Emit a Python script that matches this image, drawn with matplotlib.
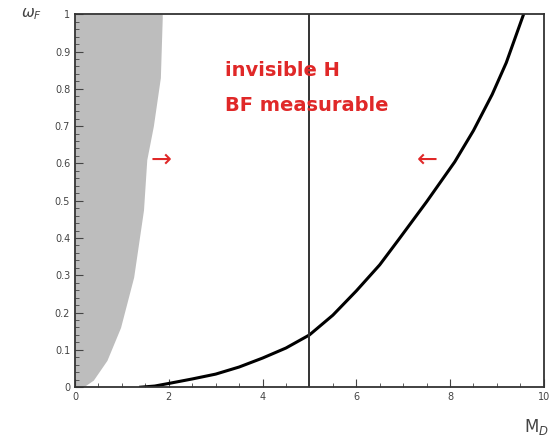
import numpy as np
import matplotlib.pyplot as plt

# curve of the measurable limit
curve_x = [1.4, 1.7, 2.0, 2.5, 3.0, 3.5, 4.0, 4.5, 5.0, 5.5, 6.0, 6.5, 6.9,
           7.5, 8.1, 8.5, 8.9, 9.2, 9.57]
curve_y = [0.0, 0.003, 0.01, 0.022, 0.035, 0.054, 0.078, 0.105, 0.14, 0.193, 0.258,
           0.328, 0.395, 0.497, 0.604, 0.688, 0.785, 0.87, 1.0]

# right edge of the shaded (excluded) region
shade_y = [0.0, 0.019, 0.072, 0.16, 0.295, 0.475, 0.61, 0.70, 0.83, 0.99, 1.0]
shade_x = [0.17, 0.39, 0.68, 0.97, 1.25, 1.46, 1.53, 1.67, 1.82, 1.86, 1.86]

cut_x = 5.0

plt.figure(figsize=(5.56, 4.44), dpi=100)
ax = plt.axes([0.135, 0.128, 0.843, 0.84])

ax.fill_betweenx(shade_y, 0, shade_x, color='#bdbdbd', lw=0)
ax.plot(curve_x, curve_y, color='black', lw=2.2)
ax.plot([cut_x, cut_x], [0, 1], color='#333333', lw=1.4)

ax.text(3.2, 0.85, 'invisible H', color='#e02828', fontsize=14,
        fontweight='bold', family='DejaVu Sans', va='center')
ax.text(3.2, 0.755, 'BF measurable', color='#e02828', fontsize=14,
        fontweight='bold', family='DejaVu Sans', va='center')
ax.text(1.6, 0.61, '\u2192', color='#e02828', fontsize=18, va='center')
ax.text(7.3, 0.61, '\u2190', color='#e02828', fontsize=18, va='center')

ax.set_xlim(0, 10)
ax.set_ylim(0, 1)
ax.set_xticks(np.arange(0, 11, 2))
ax.set_yticks(np.arange(0, 1.01, 0.1))
ax.set_yticklabels(['0', '0.1', '0.2', '0.3', '0.4', '0.5', '0.6', '0.7', '0.8', '0.9', '1'])
ax.minorticks_on()
ax.tick_params(which='both', direction='in', labelsize=7, colors='#444444')
ax.tick_params(which='major', length=6)
ax.tick_params(which='minor', length=3)
for s in ax.spines.values():
    s.set_linewidth(1.3)
    s.set_color('#333333')

ax.text(1.01, -0.08, 'M$_D$', transform=ax.transAxes, ha='right', va='top',
        fontsize=12, color='#444444')
ax.text(-0.07, 1.0, r'$\omega_F$', transform=ax.transAxes, ha='right', va='center',
        fontsize=11, color='#444444')

plt.savefig('out.png', dpi=100)
